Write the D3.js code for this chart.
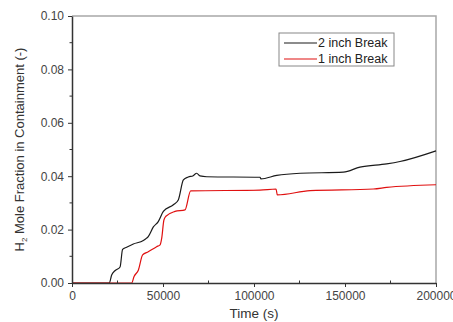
<!DOCTYPE html>
<html>
<head>
<meta charset="utf-8">
<script src="https://cdn.jsdelivr.net/npm/d3@7"></script>
<style>
  body { margin: 0; background: #fff; }
  svg text { font-family: Arial, "Liberation Sans", sans-serif; }
</style>
</head>
<body>
<svg id="chart" width="453" height="322"></svg>
<script>
// 2 inch break: [time (s), H2 mole fraction]
const twoInch = [
    [0, 0], [20500, 0], [21800, 0.003], [23600, 0.0046], [26400, 0.006],
    [27800, 0.0126], [30000, 0.0134], [33700, 0.0146], [39200, 0.0159],
    [41000, 0.0168], [41900, 0.0174], [44700, 0.021], [47400, 0.023],
    [50200, 0.0268], [55700, 0.0293], [58400, 0.0311], [61200, 0.0386],
    [63900, 0.0397], [66600, 0.0402], [68500, 0.0411], [70300, 0.0401],
    [74000, 0.0398], [103300, 0.0396], [103800, 0.039], [112500, 0.0403],
    [125300, 0.0411], [149100, 0.0415], [158200, 0.0434], [172900, 0.0446],
    [180200, 0.0455], [200000, 0.0495]
];

// 1 inch break
const oneInch = [
    [0, 0], [32800, 0], [34100, 0.0024], [36500, 0.0049], [38800, 0.0105],
    [41900, 0.0117], [46500, 0.0136], [48400, 0.0143], [49300, 0.0168],
    [50500, 0.0236], [51600, 0.025], [56600, 0.0268], [62100, 0.0274],
    [65200, 0.0345], [103300, 0.0348], [112100, 0.0352], [112800, 0.033],
    [130800, 0.0346], [165600, 0.0352], [172900, 0.0358], [200000, 0.0368]
];

const xTicks = [0, 50000, 100000, 150000, 200000];
const yTicks = [0, 0.02, 0.04, 0.06, 0.08, 0.10];

const series = [
    { name: "2 inch Break", color: "#1a1a1a", values: twoInch },
    { name: "1 inch Break", color: "#e01010", values: oneInch }
];

const svg = d3.select("#chart");
const margin = { left: 72, right: 17, top: 16, bottom: 39 };
const width = 453, height = 322;

const x = d3.scaleLinear().domain([0, 200000]).range([margin.left, width - margin.right]);
const y = d3.scaleLinear().domain([0, 0.10]).range([height - margin.bottom, margin.top]);

// frame: top and right in light gray
svg.append("path")
    .attr("d", `M${x(0)},${y(0.1)}H${x(200000)}V${y(0)}`)
    .attr("fill", "none")
    .attr("stroke", "#a8a8a8")
    .attr("stroke-width", 1.5);

// lines
const line = d3.line().x(d => x(d[0])).y(d => y(d[1])).curve(d3.curveMonotoneX);

svg.selectAll(".series")
    .data(series)
    .enter()
    .append("path")
    .attr("class", "series")
    .attr("d", d => line(d.values))
    .attr("fill", "none")
    .attr("stroke", d => d.color)
    .attr("stroke-width", 1.2);

// minor ticks
const xMinor = d3.range(25000, 200000, 50000);
const yMinor = d3.range(0.01, 0.1, 0.02);

svg.selectAll(".xminor")
    .data(xMinor)
    .enter()
    .append("line")
    .attr("x1", d => x(d)).attr("x2", d => x(d))
    .attr("y1", y(0)).attr("y2", y(0) - 2.5)
    .attr("stroke", "#333");

svg.selectAll(".yminor")
    .data(yMinor)
    .enter()
    .append("line")
    .attr("x1", x(0)).attr("x2", x(0) - 2.5)
    .attr("y1", d => y(d)).attr("y2", d => y(d))
    .attr("stroke", "#333");

// axes
const xAxis = svg.append("g")
    .attr("transform", `translate(0,${y(0)})`)
    .call(d3.axisBottom(x).tickValues(xTicks).tickFormat(d3.format("d")).tickSize(4).tickSizeOuter(0));

const yAxis = svg.append("g")
    .attr("transform", `translate(${x(0)},0)`)
    .call(d3.axisLeft(y).tickValues(yTicks).tickFormat(d3.format(".2f")).tickSize(4).tickSizeOuter(0));

[xAxis, yAxis].forEach(g => {
    g.select(".domain").attr("stroke", "#333").attr("stroke-width", 1.5);
    g.selectAll(".tick line").attr("stroke", "#333");
    g.selectAll(".tick text")
        .attr("font-size", 12)
        .attr("fill", "#444")
        .attr("font-family", "Arial, 'Liberation Sans', sans-serif");
});
xAxis.selectAll(".tick text").attr("dy", "0.85em");
yAxis.selectAll(".tick text").attr("dx", "-1px");

// axis titles
svg.append("text")
    .attr("x", x(100000))
    .attr("y", 318)
    .attr("text-anchor", "middle")
    .attr("font-size", 13.5)
    .attr("fill", "#333")
    .text("Time (s)");

const yTitle = svg.append("text")
    .attr("transform", `translate(24,${(y(0) + y(0.1)) / 2}) rotate(-90)`)
    .attr("text-anchor", "middle")
    .attr("font-size", 13)
    .attr("fill", "#333");
yTitle.append("tspan").text("H");
yTitle.append("tspan").attr("font-size", 8).attr("dy", 3).text("2");
yTitle.append("tspan").attr("dy", -3).text(" Mole Fraction in Containment (-)");

// legend
const legend = svg.append("g").attr("transform", "translate(279,33)");
legend.append("rect")
    .attr("width", 115)
    .attr("height", 33)
    .attr("fill", "#fff")
    .attr("stroke", "#888");

const item = legend.selectAll(".item")
    .data(series)
    .enter()
    .append("g")
    .attr("transform", (d, i) => `translate(0,${10 + i * 16})`);

item.append("line")
    .attr("x1", 5).attr("x2", 38)
    .attr("stroke", d => d.color)
    .attr("stroke-width", 1.2);

item.append("text")
    .attr("x", 39)
    .attr("dy", "0.35em")
    .attr("font-size", 12.5)
    .attr("fill", "#222")
    .text(d => d.name);
</script>
</body>
</html>
